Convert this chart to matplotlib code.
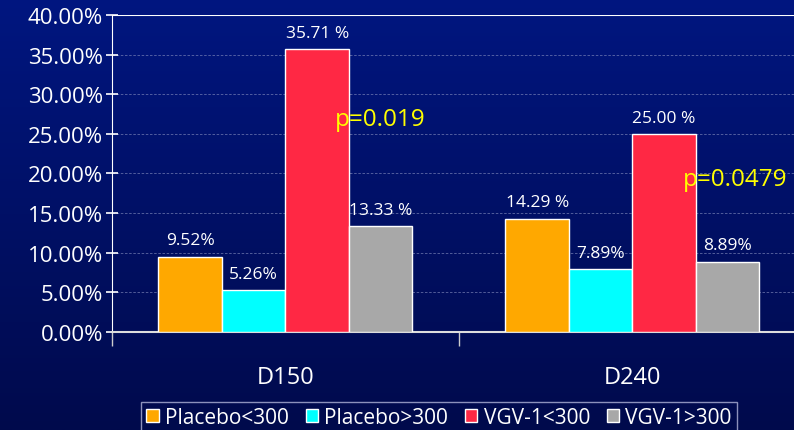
import numpy as np
import matplotlib.pyplot as plt
from matplotlib.ticker import FuncFormatter
from matplotlib.colors import LinearSegmentedColormap

categories = ['D150', 'D240']
series_names = ['Placebo<300', 'Placebo>300', 'VGV-1<300', 'VGV-1>300']
placebo_lt300 = [9.52, 14.29]
placebo_gt300 = [5.26, 7.89]
vgv_lt300 = [35.71, 25.00]
vgv_gt300 = [13.33, 8.89]
value_labels = [['9.52%', '14.29 %'], ['5.26%', '7.89%'],
                ['35.71 %', '25.00 %'], ['13.33 %', '8.89%']]
p_values = ['p=0.019', 'p=0.0479']
colors = ['#FFA800', '#00FFFF', '#FF2844', '#A8A8A8']

plt.rcParams['font.family'] = ['Open Sans', 'DejaVu Sans']

fig = plt.figure(figsize=(7.94, 4.31), dpi=100)

# gradient background
bg = fig.add_axes([0, 0, 1, 1], zorder=-10)
grad = np.linspace(0, 1, 256).reshape(-1, 1)
cmap = LinearSegmentedColormap.from_list('bg', ['#001680', '#000a4c'])
bg.imshow(grad, aspect='auto', cmap=cmap, extent=[0, 1, 0, 1])
bg.axis('off')

ax = fig.add_axes([0.141, 0.2274, 0.874, 0.7355])
ax.patch.set_alpha(0)

all_series = [placebo_lt300, placebo_gt300, vgv_lt300, vgv_gt300]
x = np.arange(len(categories))
w = 0.183
for i, (vals, name, c) in enumerate(zip(all_series, series_names, colors)):
    xs = x + (i - 1.5) * w
    ax.bar(xs, vals, width=w, color=c, edgecolor='white', linewidth=1, label=name, zorder=3)
    for xi, v, lab in zip(xs, vals, value_labels[i]):
        ax.annotate(lab, (xi, v), xytext=(0, 6), textcoords='offset points',
                    ha='center', va='bottom', color='white', fontsize=12.5)

# p-values
ax.text(x[0] + 0.143, 26.9, p_values[0], color='#FFFF00', fontsize=17.5, ha='left', va='center')
ax.text(x[1] + 0.146, 19.3, p_values[1], color='#FFFF00', fontsize=17.5, ha='left', va='center')

ax.set_ylim(0, 40)
ax.set_xlim(-0.5, 1.5)
ax.set_yticks(np.arange(0, 41, 5))
ax.yaxis.set_major_formatter(FuncFormatter(lambda v, p: f'{v:.2f}%'))
ax.set_xticks(x)
ax.set_xticklabels(categories)
ax.set_xticks([-0.5, 0.5, 1.5], minor=True)
ax.tick_params(axis='x', which='major', length=0, pad=24, labelsize=17, colors='white')
ax.tick_params(axis='x', which='minor', length=10, width=1, color='#cccccc', direction='out')
ax.tick_params(axis='y', length=9, width=1.2, direction='inout', labelsize=16, colors='white', pad=2)

ax.grid(axis='y', color='#8890c0', linestyle=(0, (3, 2)), linewidth=0.6, alpha=0.7, zorder=0)
ax.axhline(40, color='white', linewidth=1.5, zorder=2)
for s in ['top', 'right']:
    ax.spines[s].set_visible(False)
ax.spines['left'].set_color('white')
ax.spines['bottom'].set_color('#dddddd')
ax.spines['bottom'].set_linewidth(1.5)

leg = fig.legend(loc='upper left', bbox_to_anchor=(0.1776, 0.065), ncol=4,
                 frameon=True, fontsize=15, labelcolor='white',
                 handlelength=0.6, handleheight=0.6, handletextpad=0.3,
                 columnspacing=0.8, borderaxespad=0, borderpad=0.25)
leg.get_frame().set_facecolor('none')
leg.get_frame().set_edgecolor('#b0b4d8')
leg.get_frame().set_boxstyle('square', pad=0)

fig.savefig('out.png', dpi=100)
